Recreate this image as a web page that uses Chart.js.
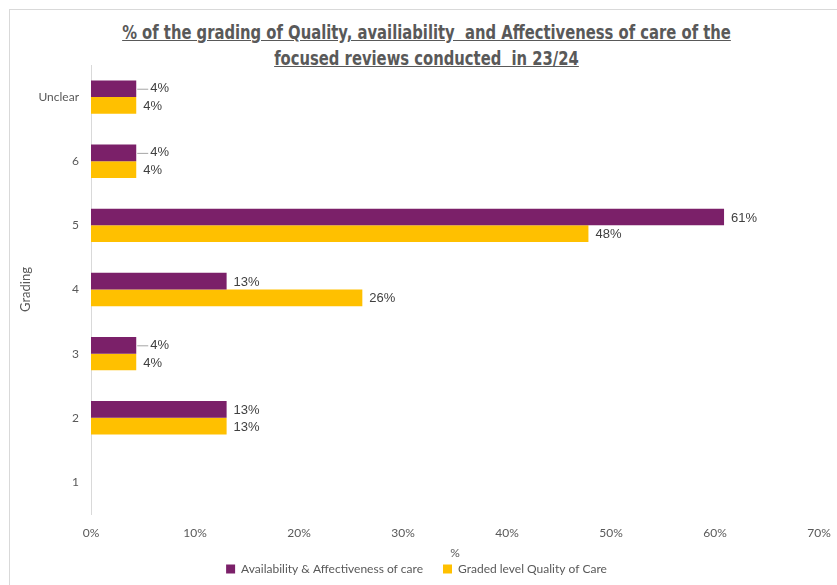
<!DOCTYPE html>
<html>
<head>
<meta charset="utf-8">
<script src="https://cdn.jsdelivr.net/npm/chart.js@4.4.1/dist/chart.umd.min.js"></script>
<style>
  html, body { margin: 0; padding: 0; background: #fff; }
  #wrap { position: relative; width: 837px; height: 585px; overflow: hidden; }
  #frame { position: absolute; left: 9px; top: 9px; width: 900px; height: 700px;
           border-left: 1px solid #d9d9d9; border-top: 1px solid #d9d9d9; }
  #titulo { position: absolute; left: 8px; top: 19px; width: 837px; text-align: center;
            font-family: "Liberation Sans Narrow", "DejaVu Sans Condensed", sans-serif;
            font-weight: bold; font-size: 19px; line-height: 26px; color: #595959;
            text-decoration: underline; transform: scaleX(0.865); transform-origin: 50% 0; }
  canvas { position: absolute; left: 0; top: 0; }
</style>
</head>
<body>
<div id="wrap">
  <div id="frame"></div>
  <div id="titulo">% of the grading of Quality, availiability&nbsp; and Affectiveness of care of the<br>focused reviews conducted&nbsp; in 23/24</div>
  <canvas id="grafico" width="837" height="585"></canvas>
</div>
<script>
// Datos (porcentaje)
const categorias = ['Unclear', '6', '5', '4', '3', '2', '1'];
const disponibilidad = [4.35, 4.35, 60.87, 13.04, 4.35, 13.04, 0];
const calidad = [4.35, 4.35, 47.83, 26.09, 4.35, 13.04, 0];
const ticksX = [0, 10, 20, 30, 40, 50, 60, 70];

const fuenteEje = { family: 'Lato, "Noto Sans", sans-serif', size: 12 };

// Etiquetas de datos al final de cada barra
const etiquetas = {
  id: 'etiquetas',
  afterDatasetsDraw(chart) {
    const ctx = chart.ctx;
    ctx.save();
    ctx.font = '13px "Liberation Sans", Arial, sans-serif';
    ctx.fillStyle = '#404040';
    ctx.textBaseline = 'middle';
    ctx.textAlign = 'left';
    chart.data.datasets.forEach((ds, i) => {
      chart.getDatasetMeta(i).data.forEach((bar, j) => {
        const v = ds.data[j];
        if (!v) return;
        let x = bar.x + 7;
        let y = bar.y + 1;
        if (i === 0 && v < 5) {
          // linea guia para las etiquetas cortas
          ctx.strokeStyle = '#a6a6a6';
          ctx.lineWidth = 1;
          ctx.beginPath();
          ctx.moveTo(bar.x + 1, bar.y + 0.5);
          ctx.lineTo(bar.x + 12, bar.y + 0.5);
          ctx.stroke();
          x = bar.x + 14;
          y = bar.y;
        }
        ctx.fillText(Math.round(v) + '%', x, y);
      });
    });
    ctx.restore();
  }
};

function inicializarGrafico() {
  const lienzo = document.getElementById('grafico');
  new Chart(lienzo, {
    type: 'bar',
    data: {
      labels: categorias,
      datasets: [{
        label: 'Availability & Affectiveness of care',
        data: disponibilidad,
        backgroundColor: '#7B2069',
        categoryPercentage: 0.52,
        barPercentage: 1
      }, {
        label: 'Graded level Quality of Care',
        data: calidad,
        backgroundColor: '#FFC000',
        categoryPercentage: 0.52,
        barPercentage: 1
      }]
    },
    options: {
      indexAxis: 'y',
      responsive: false,
      animation: false,
      layout: { padding: { left: 14, top: 65, right: 18, bottom: 0 } },
      plugins: {
        legend: {
          position: 'bottom',
          labels: {
            boxWidth: 9, boxHeight: 9, padding: 20,
            color: '#595959',
            font: fuenteEje
          }
        },
        tooltip: { enabled: false }
      },
      scales: {
        x: {
          min: 0, max: 70,
          afterBuildTicks: s => { s.ticks = ticksX.map(v => ({ value: v })); },
          afterFit: s => { s.height = 29; },
          grid: { display: false },
          border: { display: false },
          ticks: {
            callback: v => v + '%',
            color: '#595959', padding: 4,
            font: fuenteEje
          },
          title: {
            display: true, text: '%', color: '#595959',
            padding: { top: 0, bottom: -17 },
            font: fuenteEje
          }
        },
        y: {
          afterFit: s => { s.width = 77; },
          grid: { display: false },
          border: { color: '#d9d9d9' },
          ticks: {
            color: '#595959', padding: 4,
            font: fuenteEje
          },
          title: {
            display: true, text: 'Grading', color: '#595959',
            font: { family: 'Lato, "Noto Sans", sans-serif', size: 13 }
          }
        }
      }
    },
    plugins: [etiquetas]
  });
}

window.addEventListener('DOMContentLoaded', inicializarGrafico);
</script>
</body>
</html>
